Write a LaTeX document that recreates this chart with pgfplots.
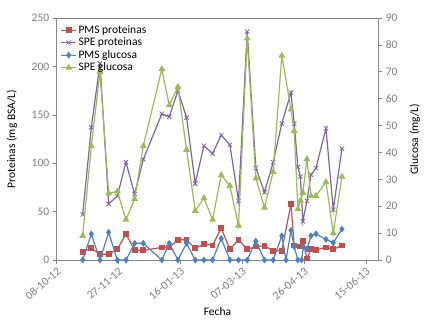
\documentclass[border=0pt]{standalone}
\usepackage{fontspec}
\setmainfont{Carlito}
\usepackage{pgfplots}
\usepackage{pgfplotstable}
\pgfplotsset{compat=1.18}
\definecolor{cRed}{HTML}{C0504D}
\definecolor{cPur}{HTML}{8064A2}
\definecolor{cBlu}{HTML}{4F81BD}
\definecolor{cGrn}{HTML}{9BBB59}
\definecolor{axgray}{HTML}{868686}
\definecolor{tkgray}{HTML}{808080}

% x = days since 08-10-12
\pgfplotstableread{
d v
21 8.6
28 12
35 6
42 6
49 11
56 27
63 10
70 10
85 13
91 13
98 21
105 21
112 12
119 16.5
126 15
133 33
140 11
147 21
154 11
161 14
168 14.5
175 9.6
182 9.6
189.4 58
192 15
197 14
199 20
202.3 1.5
205.6 11
209.6 10.5
217.7 13
223.6 11
230.6 15
}\pmsprot

\pgfplotstableread{
d v
21 47
28 137
35 203
42 58
49 66
56 101
63 68
70 104
85 151
91 148
98 175
105 147
112 79
119 118
126 110
133 129
140 119
147 61
154 236
161 95
168 70
175 101
182 141
189.4 173
192 141
195 96
197 86
199 40
202.3 61
205.6 88
209.6 95
217.7 136
223.6 52
230.6 115
}\speprot

\pgfplotstableread{
d v
21 0
28 9.7
35 0
42 10.3
49 0
56 0
63 6.2
70 6.2
85 0
91 6.2
98 0
105 6.2
112 0
119 0
126 0
133 8
140 0
147 0
154 0
161 7
168 0
175 0
182 9
185.4 0
189.4 11
192 5
195 0
198 0
199.5 5
202.3 4
205.6 9
209.6 9.7
217.7 7.7
223.6 6.4
230.6 11.5
}\pmsglu

\pgfplotstableread{
d v
21 9
28 42.4
35 70
42 24.8
49 25.5
56 15
63 22.7
70 42.4
85 71
91 57.6
98 64.4
105 41
112 18.3
119 23
126 15
133 31.6
140 27.6
147 12.8
154 82.4
161 30.4
168 19.5
175 32.8
182 76
189.4 56
192 48
195 19
197 22
199 25
202.3 37.5
205.6 23.8
209.6 23.8
217.7 29
223.6 10
230.6 31
}\speglu

\begin{document}
\begin{tikzpicture}
\useasboundingbox (-56.7pt,-65pt) rectangle (372.3pt,260pt);
\pgfplotsset{common/.style={
  width=321.6pt, height=242pt, scale only axis,
  at={(0pt,0pt)}, anchor=south west,
  xmin=0, xmax=260,
  axis line style={axgray, line width=0.6pt},
  tick style={axgray, line width=0.6pt},
  major tick length=4pt,
  tick align=outside,
  ticklabel style={font=\fontsize{11.5}{13}\selectfont, color=tkgray},
  /pgf/number format/assume math mode=true,
}}
\begin{axis}[common,
  ymin=0, ymax=250, ytick={0,50,...,250},
  xtick={0,50,...,250},
  xticklabels={08-10-12,27-11-12,16-01-13,07-03-13,26-04-13,15-06-13},
  xtick pos=bottom, ytick pos=left,
  xticklabel style={rotate=40, anchor=north east, inner sep=2pt},
  xlabel={Fecha}, ylabel={Proteinas (mg BSA/L)},
  every axis x label/.style={at={(axis description cs:0.5,0)}, yshift=-52pt, anchor=center, font=\fontsize{11.5}{13}\selectfont},
  every axis y label/.style={at={(axis description cs:0,0.5)}, xshift=-44.7pt, rotate=90, anchor=center, font=\fontsize{11.5}{13}\selectfont},
]
\addplot[cRed, line width=1.2pt, mark=square*, mark size=2.3pt, mark options={solid, fill=cRed}] table[x=d,y=v] {\pmsprot};
\addplot[cPur, line width=1.2pt, mark=x, mark size=3pt, mark options={solid, line width=0.8pt}] table[x=d,y=v] {\speprot};
\end{axis}
\begin{axis}[common,
  ymin=0, ymax=90, ytick={0,10,...,90},
  axis y line*=right, axis x line=none,
  ylabel={Glucosa (mg/L)},
  every axis y label/.style={at={(axis description cs:1,0.5)}, xshift=36.7pt, rotate=90, anchor=center, font=\fontsize{11.5}{13}\selectfont},
  legend style={at={(0.008,0.98)}, anchor=north west, draw=none, fill=none,
    font=\fontsize{11.5}{13}\selectfont, row sep=0pt, inner sep=1pt,
    nodes={inner sep=1.5pt}},
  legend cell align=left,
  legend image code/.code={\draw[mark repeat=2,mark phase=2] plot coordinates {(0cm,0cm) (0.27cm,0cm) (0.54cm,0cm)};},
]
\addlegendimage{cRed, line width=1.2pt, mark=square*, mark size=2.3pt, mark options={solid, fill=cRed}}
\addlegendentry{PMS proteinas}
\addlegendimage{cPur, line width=1.2pt, mark=x, mark size=3pt, mark options={solid, line width=0.8pt}}
\addlegendentry{SPE proteinas}
\addplot[cBlu, line width=1.2pt, mark=diamond*, mark size=2.5pt, mark options={solid, fill=cBlu}] table[x=d,y=v] {\pmsglu};
\addlegendentry{PMS glucosa}
\addplot[cGrn, line width=1.2pt, mark=triangle*, mark size=2.8pt, mark options={solid, fill=cGrn}] table[x=d,y=v] {\speglu};
\addlegendentry{SPE glucosa}
\end{axis}
\end{tikzpicture}
\end{document}
